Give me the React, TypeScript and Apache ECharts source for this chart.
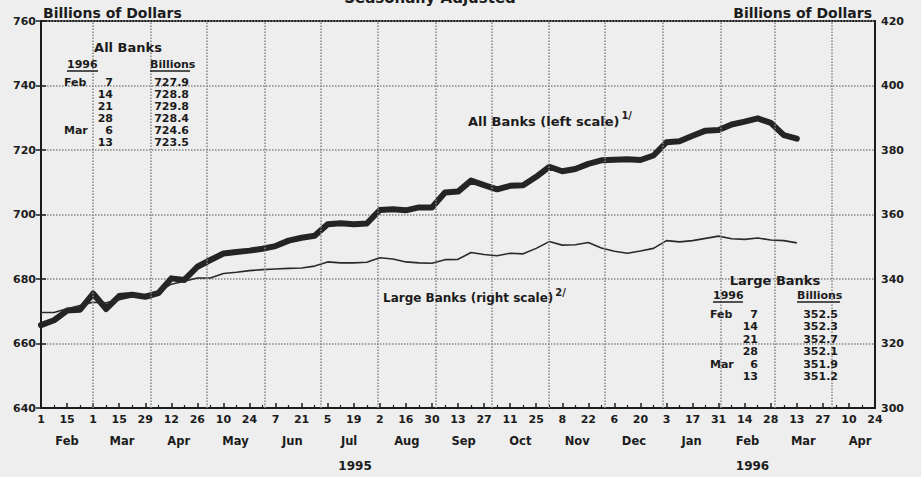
import React, { useEffect, useRef } from "react";
import * as echarts from "echarts";

// ---------- data ----------
const START = Date.UTC(1995, 1, 1); // Wed Feb 1 1995 = week 0
const WEEK = 7 * 864e5;

const dayLabels = [
  "1", "15", "1", "15", "29", "12", "26", "10", "24", "7", "21", "5", "19", "2", "16", "30",
  "13", "27", "11", "25", "8", "22", "6", "20", "3", "17", "31", "14", "28", "13", "27", "10", "24",
];
const monthNames = ["Feb", "Mar", "Apr", "May", "Jun", "Jul", "Aug", "Sep", "Oct", "Nov", "Dec", "Jan", "Feb", "Mar", "Apr"];
const monthStarts: [number, number][] = [
  [1995, 2], [1995, 3], [1995, 4], [1995, 5], [1995, 6], [1995, 7], [1995, 8], [1995, 9],
  [1995, 10], [1995, 11], [1995, 12], [1996, 1], [1996, 2], [1996, 3], [1996, 4], [1996, 5],
];
const yearLabels = ["1995", "1996"];
const yearWeeks = [24.1, 54.6];

// All Banks, billions of dollars (left scale), weekly from Feb 1 1995
const allBanks = [
  665.7, 667.2, 670.2, 670.5, 675.5, 670.7, 674.7, 675.1, 674.5, 675.6,
  680.2, 679.7, 683.8, 685.9, 687.9, 688.4, 688.8, 689.4, 690.2, 691.9,
  692.8, 693.4, 697.0, 697.3, 697.0, 697.2, 701.4, 701.6, 701.3, 702.2,
  702.2, 706.8, 707.1, 710.5, 709.1, 707.8, 708.9, 709.1, 711.7, 714.8,
  713.4, 714.1, 715.7, 716.8, 717.0, 717.1, 716.9, 718.3, 722.4, 722.7,
  724.4, 726.0, 726.2, 727.9, 728.8, 729.8, 728.4, 724.6, 723.5,
];
// Large Banks, billions of dollars (right scale)
const largeBanks = [
  329.6, 329.6, 330.8, 331.8, 332.8, 332.6, 333.6, 334.5, 335.2, 336.0,
  338.4, 339.3, 340.3, 340.3, 341.7, 342.1, 342.6, 342.9, 343.1, 343.3,
  343.4, 344.0, 345.3, 345.0, 345.0, 345.2, 346.6, 346.2, 345.3, 345.0,
  344.9, 346.0, 346.1, 348.2, 347.6, 347.2, 348.0, 347.8, 349.5, 351.6,
  350.5, 350.6, 351.3, 349.6, 348.6, 348.0, 348.7, 349.5, 351.9, 351.5,
  351.9, 352.6, 353.3, 352.5, 352.3, 352.7, 352.1, 351.9, 351.2,
];

const tableMonths = ["Feb", "", "", "", "Mar", ""];
const tableDays = ["7", "14", "21", "28", "6", "13"];
const allBanksRecent = ["727.9", "728.8", "729.8", "728.4", "724.6", "723.5"];
const largeBanksRecent = ["352.5", "352.3", "352.7", "352.1", "351.9", "351.2"];

// ---------- styling ----------
const FONT = "DejaVu Sans";
const INK = "#1c1c1c";
const GRIDC = "#858585";

const monthWeeks = monthStarts.map(([y, m]) => (Date.UTC(y, m - 1, 1) - START) / WEEK);
const monthCenters = monthNames.map((_, i) => (monthWeeks[i] + monthWeeks[i + 1]) / 2);
const gridWeeks = monthWeeks.filter((w) => w > 0 && w < 64);

const nearest = (arr: number[], v: number) => {
  let bi = 0;
  arr.forEach((a, i) => {
    if (Math.abs(a - v) < Math.abs(arr[bi] - v)) bi = i;
  });
  return bi;
};

let measureCtx: CanvasRenderingContext2D | null = null;
const measure = (text: string, size: number) => {
  if (!measureCtx) measureCtx = document.createElement("canvas").getContext("2d");
  if (!measureCtx) return text.length * size * 0.6;
  measureCtx.font = `bold ${size}px "${FONT}"`;
  return measureCtx.measureText(text).width;
};

const txt = (
  text: string,
  x: number,
  y: number,
  size: number,
  align: string = "left",
  weight: string = "bold"
) => ({
  type: "text",
  x,
  y,
  z: 50,
  silent: true,
  style: {
    text,
    fill: INK,
    fontSize: size,
    fontWeight: weight,
    fontFamily: FONT,
    textAlign: align,
    align,
    textVerticalAlign: "middle",
    verticalAlign: "middle",
  },
});

const uline = (x1: number, x2: number, y: number) => ({
  type: "line",
  z: 50,
  silent: true,
  shape: { x1, y1: y, x2, y2: y },
  style: { stroke: INK, lineWidth: 1.5 },
});

function labelWithSup(main: string, sup: string, x: number, y: number, size: number) {
  const w = measure(main, size);
  return [txt(main, x, y, size, "left"), txt(sup, x + w + 2, y - 6, 10, "left")];
}

function buildGraphics() {
  const g: any[] = [];
  g.push(txt("Seasonally Adjusted", 430, -2, 15, "center"));
  g.push(txt("Billions of Dollars", 43, 13, 14, "left"));
  g.push(txt("Billions of Dollars", 872, 13, 14, "right"));
  g.push(...labelWithSup("All Banks (left scale)", "1/", 468, 121, 13));
  g.push(...labelWithSup("Large Banks (right scale)", "2/", 383, 298, 12));

  // All Banks table
  g.push(txt("All Banks", 128, 47, 13, "center"));
  g.push(txt("1996", 67, 64, 11, "left"));
  g.push(uline(67, 98, 71));
  g.push(txt("Billions", 150, 64, 11, "left"));
  g.push(uline(150, 190, 71));
  tableDays.forEach((d, i) => {
    const y = 82 + i * 12;
    if (tableMonths[i]) g.push(txt(tableMonths[i], 64, y, 11, "left"));
    g.push(txt(d, 113, y, 11, "right"));
    g.push(txt(allBanksRecent[i], 189, y, 11, "right"));
  });

  // Large Banks table
  g.push(txt("Large Banks", 775, 280, 13, "center"));
  g.push(txt("1996", 713, 295, 11, "left"));
  g.push(uline(713, 743, 302));
  g.push(txt("Billions", 797, 295, 11, "left"));
  g.push(uline(797, 840, 302));
  tableDays.forEach((d, i) => {
    const y = 314 + i * 12.5;
    if (tableMonths[i]) g.push(txt(tableMonths[i], 710, y, 11, "left"));
    g.push(txt(d, 758, y, 11, "right"));
    g.push(txt(largeBanksRecent[i], 838, y, 11, "right"));
  });
  return g;
}

const labelStyle = { color: INK, fontFamily: FONT, fontWeight: "bold" as const };

export default function App() {
  const ref = useRef<HTMLDivElement>(null);
  useEffect(() => {
    if (!ref.current) return;
    const chart = echarts.init(ref.current, undefined, { renderer: "svg" });
    chart.setOption({
      animation: false,
      backgroundColor: "#eeeeee",
      grid: {
        left: 41,
        right: 46,
        top: 21,
        bottom: 69,
        show: true,
        borderColor: INK,
        borderWidth: 2,
        backgroundColor: "transparent",
      },
      xAxis: [
        {
          type: "value",
          min: 0,
          max: 64,
          interval: 2,
          position: "bottom",
          axisLine: { show: true, onZero: false, lineStyle: { color: INK, width: 2 } },
          axisTick: { show: true, inside: true, length: 5, lineStyle: { color: INK, width: 1.5 } },
          minorTick: { show: true, splitNumber: 2, length: 3, lineStyle: { color: INK, width: 1.2 } },
          splitLine: { show: false },
          axisLabel: {
            ...labelStyle,
            fontSize: 11,
            margin: 6,
            showMinLabel: true,
            showMaxLabel: true,
            formatter: (v: number) => dayLabels[Math.round(v / 2)] ?? "",
          },
        },
        {
          type: "value",
          min: 0,
          max: 64,
          position: "bottom",
          axisLine: { show: false },
          axisTick: { show: false },
          splitLine: { show: false },
          axisLabel: {
            ...labelStyle,
            fontSize: 11.5,
            margin: 27,
            customValues: monthCenters,
            formatter: (v: number) => monthNames[nearest(monthCenters, v)],
          },
        },
        {
          type: "value",
          min: 0,
          max: 64,
          position: "bottom",
          axisLine: { show: false },
          axisTick: { show: false },
          splitLine: { show: false },
          axisLabel: {
            ...labelStyle,
            fontSize: 12,
            margin: 52,
            customValues: yearWeeks,
            formatter: (v: number) => yearLabels[nearest(yearWeeks, v)],
          },
        },
      ],
      yAxis: [
        {
          type: "value",
          min: 640,
          max: 760,
          interval: 20,
          position: "left",
          axisLine: { show: true, lineStyle: { color: INK, width: 2 } },
          axisTick: { show: true, length: 5, lineStyle: { color: INK, width: 1.5 } },
          axisLabel: { ...labelStyle, fontSize: 11, margin: 5 },
          splitLine: { show: true, lineStyle: { color: GRIDC, type: "dotted", width: 1.5 } },
        },
        {
          type: "value",
          min: 300,
          max: 420,
          interval: 20,
          position: "right",
          axisLine: { show: true, lineStyle: { color: INK, width: 2 } },
          axisTick: { show: true, length: 5, lineStyle: { color: INK, width: 1.5 } },
          axisLabel: { ...labelStyle, fontSize: 11, margin: 6 },
          splitLine: { show: false },
        },
      ],
      series: [
        {
          type: "line",
          name: "grid",
          data: [],
          z: 1,
          silent: true,
          markLine: {
            silent: true,
            symbol: ["none", "none"],
            label: { show: false },
            lineStyle: { color: GRIDC, type: "dotted", width: 1.5 },
            data: gridWeeks.map((w) => ({ xAxis: w })),
          },
        },
        {
          type: "line",
          name: "All Banks",
          xAxisIndex: 0,
          yAxisIndex: 0,
          z: 3,
          symbol: "none",
          data: allBanks.map((v, i) => [i, v]),
          lineStyle: { color: "#242424", width: 6, join: "round", cap: "round" },
        },
        {
          type: "line",
          name: "Large Banks",
          xAxisIndex: 0,
          yAxisIndex: 1,
          z: 4,
          symbol: "none",
          data: largeBanks.map((v, i) => [i, v]),
          lineStyle: { color: "#2a2a2a", width: 1.6, join: "round" },
        },
      ],
      graphic: buildGraphics(),
    });
    return () => chart.dispose();
  }, []);
  return (
    <div
      ref={ref}
      style={{ position: "fixed", left: 0, top: 0, width: 921, height: 477 }}
    />
  );
}
